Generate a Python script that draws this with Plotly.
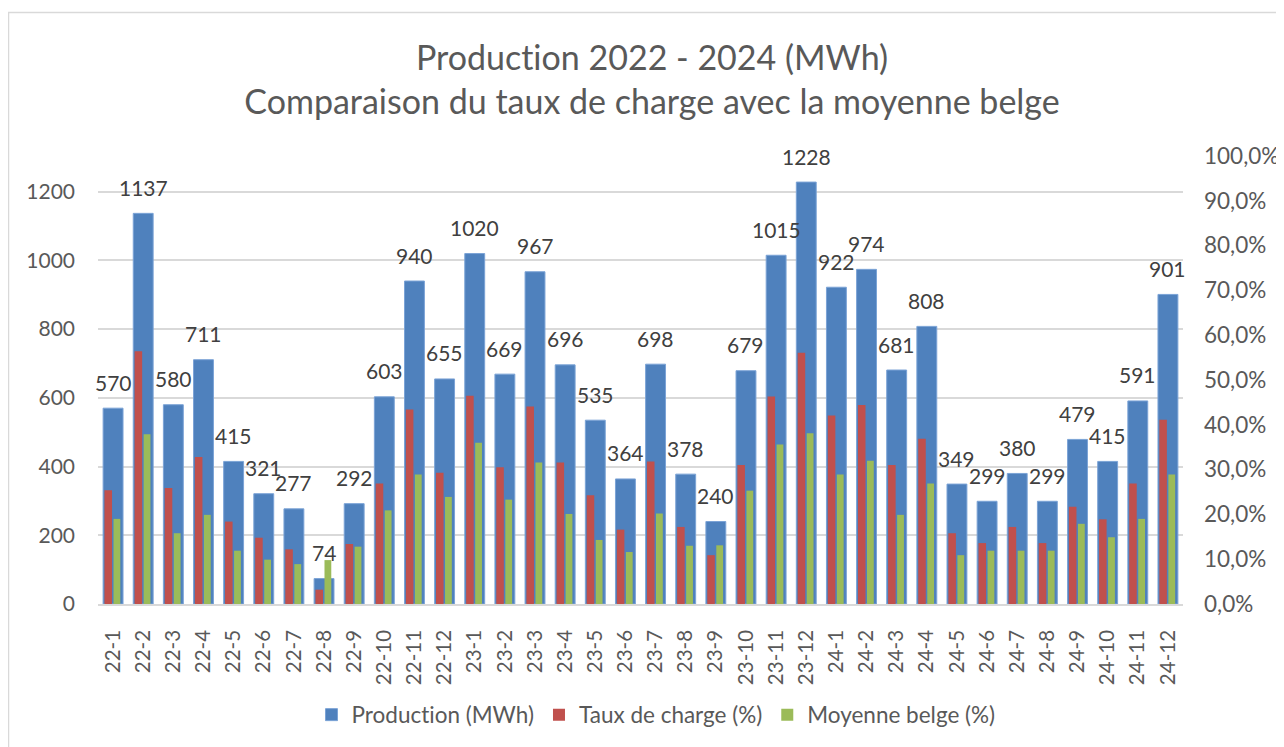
import plotly.graph_objects as go

categories = ["22-1", "22-2", "22-3", "22-4", "22-5", "22-6", "22-7", "22-8", "22-9", "22-10", "22-11", "22-12",
              "23-1", "23-2", "23-3", "23-4", "23-5", "23-6", "23-7", "23-8", "23-9", "23-10", "23-11", "23-12",
              "24-1", "24-2", "24-3", "24-4", "24-5", "24-6", "24-7", "24-8", "24-9", "24-10", "24-11", "24-12"]

production = [570, 1137, 580, 711, 415, 321, 277, 74, 292, 603, 940, 655,
              1020, 669, 967, 696, 535, 364, 698, 378, 240, 679, 1015, 1228,
              922, 974, 681, 808, 349, 299, 380, 299, 479, 415, 591, 901]

taux_charge = [25.4, 56.4, 25.9, 32.8, 18.4, 14.8, 12.2, 3.2, 13.4, 26.9, 43.4, 29.3,
               46.5, 30.5, 44.1, 31.6, 24.3, 16.6, 31.8, 17.2, 10.9, 31.0, 46.3, 56.1,
               42.1, 44.4, 31.0, 36.9, 15.8, 13.6, 17.2, 13.6, 21.7, 18.9, 26.9, 41.1]

moyenne_belge = [19.0, 37.9, 15.8, 19.9, 11.9, 9.9, 8.9, 9.8, 12.8, 20.9, 28.9, 23.9,
                 36.0, 23.3, 31.6, 20.1, 14.3, 11.6, 20.2, 13.0, 13.1, 25.3, 35.6, 38.1,
                 28.9, 32.0, 19.9, 26.9, 10.9, 11.9, 11.9, 11.9, 17.9, 14.9, 19.0, 28.9]

left_ticks = [0, 200, 400, 600, 800, 1000, 1200]
right_ticks = [0.0, 0.1, 0.2, 0.3, 0.4, 0.5, 0.6, 0.7, 0.8, 0.9, 1.0]

FONT = "Lato"
TXT = "#595959"
ZW = "\u200c"  # prevents the 'ti' ligature of the font

fig = go.Figure()
fig.add_trace(go.Bar(
    x=categories, y=production, name="Product" + ZW + "ion (MWh)", yaxis="y",
    width=0.66, marker=dict(color="#4F81BD", line=dict(color="#7BA3D6", width=1)),
    hoverinfo="x+y"))
fig.add_trace(go.Bar(
    x=categories, y=[v / 100 for v in taux_charge], name="Taux de charge (%)", yaxis="y2",
    width=0.25, offset=-0.285, marker=dict(color="#C0504D", line=dict(width=0))))
fig.add_trace(go.Bar(
    x=categories, y=[v / 100 for v in moyenne_belge], name="Moyenne belge (%)", yaxis="y2",
    width=0.225, offset=0.015, marker=dict(color="#9BBB59", line=dict(width=0))))

annotations = []
for c, v in zip(categories, production):
    annotations.append(dict(x=c, y=v, xref="x", yref="y", text=str(v), showarrow=False,
                            yanchor="middle", yshift=26,
                            font=dict(family=FONT, size=21, color="#404040")))

OFF = 8  # page body margin: screen px = div px + 8
W, H = 1284, 747
plot_l, plot_r, plot_t, plot_b = 98 - OFF, 1183 - OFF, 156 - OFF, 604 - OFF
pw, ph = plot_r - plot_l, plot_b - plot_t

def px(xs):
    return (xs - OFF - plot_l) / pw

def py(ys):
    return (plot_b - (ys - OFF)) / ph

fig.update_layout(
    width=W, height=H,
    margin=dict(l=plot_l, r=W - plot_r, t=plot_t, b=H - plot_b, pad=0, autoexpand=False),
    paper_bgcolor="white", plot_bgcolor="white",
    barmode="overlay",
    separators=", ",
    font=dict(family=FONT, color=TXT, size=20),
    title=dict(text="Product" + ZW + "ion 2022 - 2024 (MWh)<br>Comparaison du taux de charge avec la moyenne belge",
               x=(652 - OFF) / W, xanchor="center", xref="container",
               y=1 - 62 / H, yanchor="top", yref="container",
               font=dict(family=FONT, size=34, color=TXT)),
    xaxis=dict(type="category", tickangle=-90, ticks="", showline=True, linecolor="#D9D9D9",
               linewidth=1.5, showgrid=False, tickfont=dict(size=20.5, color=TXT),
               ticklabelstandoff=16, range=[-0.5, len(categories) - 0.5], automargin=False),
    yaxis=dict(range=[0, 1200 * ph / 412.3], tickvals=left_ticks, tickformat="d",
               showgrid=True, gridcolor="#D9D9D9", gridwidth=1.5, zeroline=False,
               ticks="", tickfont=dict(size=21, color=TXT), ticklabelstandoff=22, automargin=False),
    yaxis2=dict(range=[0, 1.0], tickvals=right_ticks, tickformat=".1%", overlaying="y",
                side="right", showgrid=False, zeroline=False, ticks="",
                tickfont=dict(size=22.5, color=TXT), ticklabelstandoff=20, automargin=False),
    legend=dict(orientation="h", x=(656 - OFF) / W, xref="container", xanchor="center",
                y=1 - (715 - OFF) / H, yref="container", yanchor="middle",
                font=dict(size=22.5, color=TXT), traceorder="normal"),
    annotations=annotations,
    shapes=[dict(type="rect", xref="paper", yref="paper",
                 x0=px(8.5), x1=px(1300), y0=py(770), y1=py(12.5),
                 line=dict(color="#D9D9D9", width=1.5), fillcolor="rgba(0,0,0,0)", layer="below")],
)

fig.write_html("out.html")
